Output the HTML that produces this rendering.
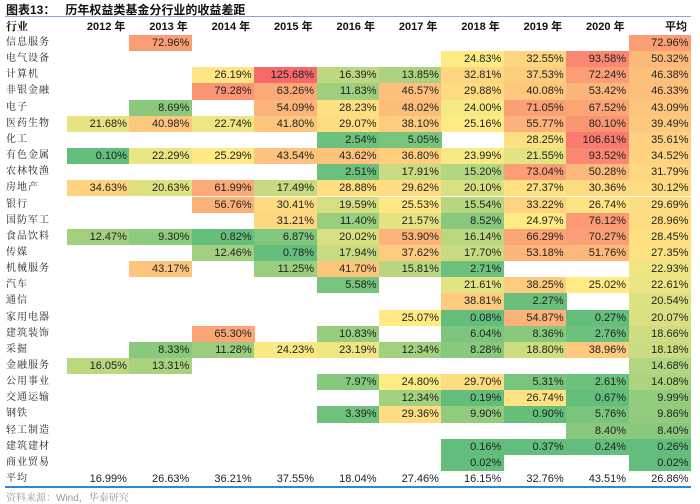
<!DOCTYPE html>
<html><head><meta charset="utf-8">
<style>
body{margin:0;background:#fff;width:700px;height:504px;position:relative;overflow:hidden;font-family:"Liberation Sans","Noto Sans CJK SC",sans-serif;}
.c{position:absolute;box-sizing:border-box;font-size:11px;color:#222;text-align:right;padding-right:3px;line-height:16px;height:16.15px;}
.l{position:absolute;font-family:"Liberation Serif","Noto Serif CJK SC",serif;font-size:10px;color:#222;left:6px;line-height:16px;letter-spacing:1px;}
.h{position:absolute;font-size:11px;font-weight:bold;color:#111;text-align:right;line-height:16px;}
</style></head><body>
<div style="position:absolute;left:6px;top:1px;font-size:12px;font-weight:bold;font-family:'Liberation Sans','Noto Sans CJK SC',sans-serif;color:#111;">图表13：&nbsp;&nbsp;&nbsp;历年权益类基金分行业的收益差距</div>
<div style="position:absolute;left:5px;top:16px;width:686px;height:1px;background:#8ea9c8;"></div>
<div style="position:absolute;left:5px;top:486px;width:686px;height:1.5px;background:#2e86d6;"></div>
<div style="position:absolute;left:6px;top:489px;font-size:10px;color:#999;font-family:'Liberation Sans','Noto Serif CJK SC',serif;">资料来源：Wind，华泰研究</div>
<div id="grid"></div>
<script>
const columns=["2012 年","2013 年","2014 年","2015 年","2016 年","2017 年","2018 年","2019 年","2020 年","平均"];
const industries=["信息服务","电气设备","计算机","非银金融","电子","医药生物","化工","有色金属","农林牧渔","房地产","银行","国防军工","食品饮料","传媒","机械服务","汽车","通信","家用电器","建筑装饰","采掘","金融服务","公用事业","交通运输","钢铁","轻工制造","建筑建材","商业贸易"];
const N=null;
const values=[
[N,72.96,N,N,N,N,N,N,N,72.96],
[N,N,N,N,N,N,24.83,32.55,93.58,50.32],
[N,N,26.19,125.68,16.39,13.85,32.81,37.53,72.24,46.38],
[N,N,79.28,63.26,11.83,46.57,29.88,40.08,53.42,46.33],
[N,8.69,N,54.09,28.23,48.02,24.00,71.05,67.52,43.09],
[21.68,40.98,22.74,41.80,29.07,38.10,25.16,55.77,80.10,39.49],
[N,N,N,N,2.54,5.05,N,28.25,106.61,35.61],
[0.10,22.29,25.29,43.54,43.62,36.80,23.99,21.55,93.52,34.52],
[N,N,N,N,2.51,17.91,15.20,73.04,50.28,31.79],
[34.63,20.63,61.99,17.49,28.88,29.62,20.10,27.37,30.36,30.12],
[N,N,56.76,30.41,19.59,25.53,15.54,33.22,26.74,29.69],
[N,N,N,31.21,11.40,21.57,8.52,24.97,76.12,28.96],
[12.47,9.30,0.82,6.87,20.02,53.90,16.14,66.29,70.27,28.45],
[N,N,12.46,0.78,17.94,37.62,17.70,53.18,51.76,27.35],
[N,43.17,N,11.25,41.70,15.81,2.71,N,N,22.93],
[N,N,N,N,5.58,N,21.61,38.25,25.02,22.61],
[N,N,N,N,N,N,38.81,2.27,N,20.54],
[N,N,N,N,N,25.07,0.08,54.87,0.27,20.07],
[N,N,65.30,N,10.83,N,6.04,8.36,2.76,18.66],
[N,8.33,11.28,24.23,23.19,12.34,8.28,18.80,38.96,18.18],
[16.05,13.31,N,N,N,N,N,N,N,14.68],
[N,N,N,N,7.97,24.80,29.70,5.31,2.61,14.08],
[N,N,N,N,N,12.34,0.19,26.74,0.67,9.99],
[N,N,N,N,3.39,29.36,9.90,0.90,5.76,9.86],
[N,N,N,N,N,N,N,N,8.40,8.40],
[N,N,N,N,N,N,0.16,0.37,0.24,0.26],
[N,N,N,N,N,N,0.02,N,N,0.02]
];
const averages=[16.99,26.63,36.21,37.55,18.04,27.46,16.15,32.76,43.51,26.86];

const X0=67, CW=62.4, Y0=35, RH=16.15;
const xPos=i=>X0+i*CW;
const yPos=r=>Y0+r*RH;
function mix(a,b,t){return a.map((v,i)=>Math.round(v+(b[i]-v)*t));}
function color(v){
  const g=[99,190,123],y=[255,235,132],r=[248,105,107];
  let c;
  if(v<=25) c=mix(g,y,Math.pow(Math.max(0,v)/25,1.3));
  else c=mix(y,r,Math.pow(Math.min(1,(v-25)/100),0.7));
  return `rgb(${c[0]},${c[1]},${c[2]})`;
}
const grid=document.getElementById('grid');
const hl=document.createElement('div');hl.className='h';hl.style.left='6px';hl.style.top='19px';hl.style.textAlign='left';
hl.style.fontFamily='"Liberation Serif","Noto Serif CJK SC",serif';hl.textContent='行业';


grid.appendChild(hl);
columns.forEach((c,i)=>{
  const d=document.createElement('div');d.className='h';
  d.style.left=xPos(i)+'px';d.style.width=(CW-4)+'px';d.style.top='19px';d.textContent=c;
  
  
  grid.appendChild(d);
});
function addRow(label,row,r,colored){
  const l=document.createElement('div');l.className='l';l.style.top=yPos(r)+'px';l.textContent=label;
  
  
  grid.appendChild(l);
  row.forEach((v,i)=>{
    if(v===null)return;
    const d=document.createElement('div');d.className='c';
    d.style.left=xPos(i)+'px';d.style.width=(CW+0.5)+'px';d.style.top=yPos(r)+'px';
    if(colored)d.style.background=color(v);
    d.textContent=v.toFixed(2)+'%';
    
    
    grid.appendChild(d);
  });
}
industries.forEach((n,r)=>addRow(n,values[r],r,true));
addRow('平均',averages,industries.length,false);
</script>
</body></html>
